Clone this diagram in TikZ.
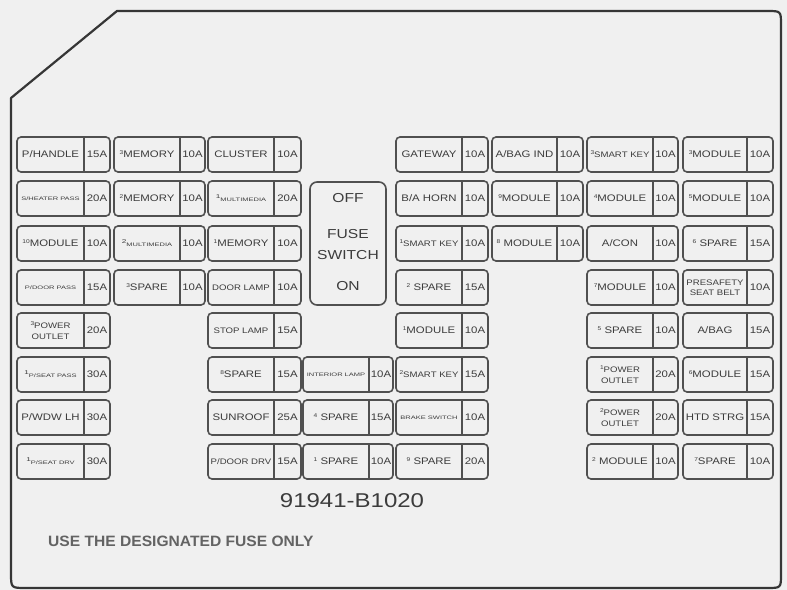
\documentclass[tikz,border=0pt]{standalone}
\usepackage{fontspec}
\setmainfont{Liberation Sans}
\newfontfamily\labf[FakeStretch=1.2]{Liberation Sans}
\newfontfamily\tinyf[FakeStretch=1.5]{Liberation Sans}
\newfontfamily\notef[FakeStretch=1.04]{Liberation Sans}
\usetikzlibrary{fit}
\definecolor{bg}{HTML}{F0F0F0}
\definecolor{ink}{HTML}{3C3C3C}
\definecolor{edge}{HTML}{505050}
\definecolor{frame}{HTML}{363636}
\newcommand\fsup[1]{\raisebox{3bp}{\fontsize{5.5bp}{5.5bp}\selectfont #1}}
\newcommand\fzsm{\fontsize{8bp}{10.5bp}\selectfont}
\newcommand\fztiny{\tinyf\fontsize{5bp}{5bp}\selectfont}
\tikzset{
  fbox/.style={draw=edge, line width=1.6bp, rounded corners=4bp, inner sep=0pt, outer sep=0pt},
  divider/.style={draw=edge, line width=1.6bp},
  lab/.style={text=ink, inner sep=0pt, align=center, font=\labf\fontsize{9.5bp}{11bp}\selectfont},
  lsmall/.style={font=\labf\fzsm},
  ltiny/.style={font=\fztiny},
  swtxt/.style={text=ink, inner sep=0pt, align=center, font=\labf\fontsize{13bp}{21bp}\selectfont},
  outline/.style={draw=frame, line width=2.2bp, line join=round},
}
% #1 label opts, #2 name, #3 x1, #4 split, #5 x2, #6 top y, #7 label, #8 amps
\newcommand\fuse[8][]{%
  \node[fbox, fit={(#3,#6) (#5,#6+35)}] (#2) {};
  \draw[divider] (#4,#6) -- (#4,#6+35);
  \node[lab,#1] (#2-l) at ({(#3+#4)/2},#6+17.5) {#7};
  \node[lab] (#2-a) at ({(#4+#5)/2},#6+17.5) {#8};
}
\begin{document}
\begin{tikzpicture}[x=1bp,y=-1bp]
\fill[bg] (0,0) rectangle (787,590);
\useasboundingbox (0,0) rectangle (787,590);
\draw[outline] (11,98) -- (117,11) -- (767,11) .. controls (781,11) .. (781,25)
  -- (781,574) .. controls (781,588) .. (767,588) -- (26,588) .. controls (11,588) .. (11,573) -- cycle;

% row 1
\fuse{f11}{17}{84}{110}{137}{P/HANDLE}{15A}
\fuse{f12}{114}{180}{205}{137}{\fsup{3}MEMORY}{10A}
\fuse{f13}{208}{274}{301}{137}{CLUSTER}{10A}
\fuse{f14}{396}{462}{488}{137}{GATEWAY}{10A}
\fuse{f15}{492}{557}{583}{137}{A/BAG IND}{10A}
\fuse[lsmall]{f16}{587}{653}{678}{137}{\fsup{3}SMART KEY}{10A}
\fuse{f17}{683}{747}{773}{137}{\fsup{3}MODULE}{10A}
% row 2
\fuse[ltiny]{f21}{17}{84}{110}{181}{S/HEATER PASS}{20A}
\fuse{f22}{114}{180}{205}{181}{\fsup{2}MEMORY}{10A}
\fuse[ltiny]{f23}{208}{274}{301}{181}{\fsup{1}MULTIMEDIA}{20A}
\fuse{f24}{396}{462}{488}{181}{B/A HORN}{10A}
\fuse{f25}{492}{557}{583}{181}{\fsup{9}MODULE}{10A}
\fuse{f26}{587}{653}{678}{181}{\fsup{4}MODULE}{10A}
\fuse{f27}{683}{747}{773}{181}{\fsup{5}MODULE}{10A}
% row 3
\fuse{f31}{17}{84}{110}{226}{\fsup{10}MODULE}{10A}
\fuse[ltiny]{f32}{114}{180}{205}{226}{\fsup{2}MULTIMEDIA}{10A}
\fuse{f33}{208}{274}{301}{226}{\fsup{1}MEMORY}{10A}
\fuse[lsmall]{f34}{396}{462}{488}{226}{\fsup{1}SMART KEY}{10A}
\fuse{f35}{492}{557}{583}{226}{\fsup{8} MODULE}{10A}
\fuse{f36}{587}{653}{678}{226}{A/CON}{10A}
\fuse{f37}{683}{747}{773}{226}{\fsup{6} SPARE}{15A}
% row 4
\fuse[ltiny]{f41}{17}{84}{110}{270}{P/DOOR PASS}{15A}
\fuse{f42}{114}{180}{205}{270}{\fsup{3}SPARE}{10A}
\fuse[lsmall]{f43}{208}{274}{301}{270}{DOOR LAMP}{10A}
\fuse{f44}{396}{462}{488}{270}{\fsup{2} SPARE}{15A}
\fuse{f46}{587}{653}{678}{270}{\fsup{7}MODULE}{10A}
\fuse[lsmall]{f47}{683}{747}{773}{270}{PRESAFETY\\SEAT BELT}{10A}
% fuse switch
\node[fbox, rounded corners=7bp, fit={(310,182) (386,305)}] (sw) {};
\node[swtxt] (off) at (348,198) {OFF};
\node[swtxt] (fs) at (348,245) {FUSE\\SWITCH};
\node[swtxt] (on) at (348,286) {ON};
% row 5
\fuse[lsmall]{f51}{17}{84}{110}{313}{\fsup{3}POWER\\OUTLET}{20A}
\fuse[lsmall]{f53}{208}{274}{301}{313}{STOP LAMP}{15A}
\fuse{f54}{396}{462}{488}{313}{\fsup{1}MODULE}{10A}
\fuse{f56}{587}{653}{678}{313}{\fsup{5} SPARE}{10A}
\fuse{f57}{683}{747}{773}{313}{A/BAG}{15A}
% row 6
\fuse[ltiny]{f61}{17}{84}{110}{357}{\fsup{1}P/SEAT PASS}{30A}
\fuse{f63}{208}{274}{301}{357}{\fsup{8}SPARE}{15A}
\fuse[ltiny]{f63b}{303}{369}{393}{357}{INTERIOR LAMP}{10A}
\fuse[lsmall]{f64}{396}{462}{488}{357}{\fsup{2}SMART KEY}{15A}
\fuse[lsmall]{f66}{587}{653}{678}{357}{\fsup{1}POWER\\OUTLET}{20A}
\fuse{f67}{683}{747}{773}{357}{\fsup{6}MODULE}{15A}
% row 7
\fuse{f71}{17}{84}{110}{400}{P/WDW LH}{30A}
\fuse{f73}{208}{274}{301}{400}{SUNROOF}{25A}
\fuse{f73b}{303}{369}{393}{400}{\fsup{4} SPARE}{15A}
\fuse[ltiny]{f74}{396}{462}{488}{400}{BRAKE SWITCH}{10A}
\fuse[lsmall]{f76}{587}{653}{678}{400}{\fsup{2}POWER\\OUTLET}{20A}
\fuse{f77}{683}{747}{773}{400}{HTD STRG}{15A}
% row 8
\fuse[ltiny]{f81}{17}{84}{110}{444}{\fsup{1}P/SEAT DRV}{30A}
\fuse[lsmall]{f83}{208}{274}{301}{444}{P/DOOR DRV}{15A}
\fuse{f83b}{303}{369}{393}{444}{\fsup{1} SPARE}{10A}
\fuse{f84}{396}{462}{488}{444}{\fsup{9} SPARE}{20A}
\fuse{f86}{587}{653}{678}{444}{\fsup{2} MODULE}{10A}
\fuse{f87}{683}{747}{773}{444}{\fsup{7}SPARE}{10A}

\node[text=ink, inner sep=0pt, font=\labf\fontsize{20bp}{20bp}\selectfont] (pn) at (352,501) {91941-B1020};
\node[text=ink!80, inner sep=0pt, anchor=west, font=\notef\bfseries\fontsize{15bp}{16bp}\selectfont] (note) at (48,541) {USE THE DESIGNATED FUSE ONLY};
\end{tikzpicture}
\end{document}
